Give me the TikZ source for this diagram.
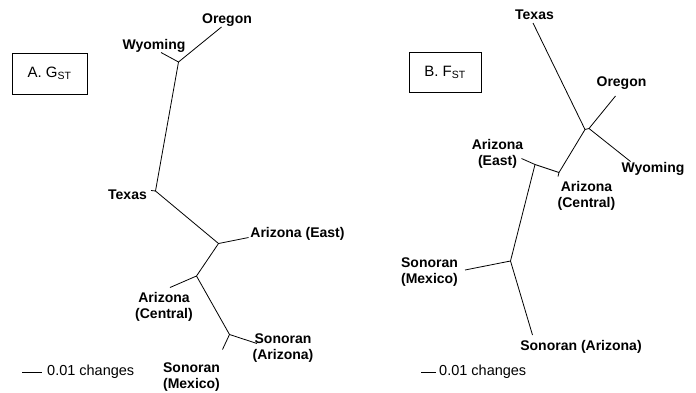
\documentclass[tikz,border=0pt]{standalone}
\usepackage{fontspec}
\setmainfont{Liberation Sans}
\usetikzlibrary{positioning}
\tikzset{
  taxon/.style={font=\fontsize{14}{16}\selectfont\bfseries, align=center, inner sep=0pt},
  branch/.style={line width=0.8pt, black},
  panel/.style={draw, line width=0.9pt, inner sep=0pt, font=\fontsize{15}{17}\selectfont},
  scaletext/.style={font=\fontsize{14.5}{16}\selectfont, inner sep=0pt, anchor=west},
}

\begin{document}
\begin{tikzpicture}[x=1pt, y=-1pt]
    \useasboundingbox (0,0) rectangle (696,392);
    % panel A: G_ST tree
    \node[panel, minimum width=75pt, minimum height=41pt] (boxA) at (49.5,73.5) {A. G\textsubscript{ST}};
    \coordinate (aOre) at (221.5,27);
    \coordinate (aWyo) at (161,52.5);
    \coordinate (a1) at (178.5,62);
    \coordinate (a2) at (155.5,191);
    \coordinate (aTex) at (151,190.5);
    \coordinate (a3) at (218.5,243.5);
    \coordinate (aAzE) at (248.5,237.5);
    \coordinate (a4) at (196.5,276);
    \coordinate (aAzC) at (170,287.5);
    \coordinate (a5) at (229.5,334.5);
    \coordinate (aSoA) at (257,343.5);
    \coordinate (aSoM) at (222.5,349.5);
    \draw[branch] (aOre) -- (a1) -- (aWyo);
    \draw[branch] (a1) -- (a2) -- (aTex);
    \draw[branch] (a2) -- (a3) -- (aAzE);
    \draw[branch] (a3) -- (a4) -- (aAzC);
    \draw[branch] (a4) -- (a5) -- (aSoA);
    \draw[branch] (a5) -- (aSoM);
    \node[taxon] (lOreA) at (227,20) {Oregon};
    \node[taxon] (lWyoA) at (154,46) {Wyoming};
    \node[taxon] (lTexA) at (127.5,194.5) {Texas};
    \node[taxon] (lAzEA) at (297.5,234) {Arizona (East)};
    \node[taxon] (lAzCA) at (164,307) {Arizona\\(Central)};
    \node[taxon] (lSoAA) at (283,348) {Sonoran\\(Arizona)};
    \node[taxon] (lSoMA) at (191.5,377) {Sonoran\\(Mexico)};
    % scale A
    \coordinate (sA0) at (22,372);
    \coordinate (sA1) at (42,372);
    \draw[branch] (sA0) -- (sA1);
    \node[scaletext] (scA) at ([xshift=5pt]sA1) {0.01 changes};
    % panel B: F_ST tree
    \node[panel, minimum width=72pt, minimum height=40pt] (boxB) at (445,72.5) {B. F\textsubscript{ST}};
    \coordinate (bTex) at (533,23);
    \coordinate (b1) at (585,129.5);
    \coordinate (b0) at (589,128.5);
    \coordinate (bOre) at (615.5,96);
    \coordinate (bWyo) at (630.5,161.5);
    \coordinate (b2) at (559,172.5);
    \coordinate (bAzC) at (558,176.5);
    \coordinate (b3) at (535,164.5);
    \coordinate (bAzE) at (521.5,158.5);
    \coordinate (b4) at (510.5,261);
    \coordinate (bSoM) at (465,270);
    \coordinate (bSoA) at (532.5,335);
    \draw[branch] (bTex) -- (b1) -- (b0) -- (bOre);
    \draw[branch] (b0) -- (bWyo);
    \draw[branch] (b1) -- (b2) -- (bAzC);
    \draw[branch] (b2) -- (b3) -- (bAzE);
    \draw[branch] (b3) -- (b4) -- (bSoM);
    \draw[branch] (b4) -- (bSoA);
    \node[taxon] (lTexB) at (534.5,15) {Texas};
    \node[taxon] (lOreB) at (621.5,83.5) {Oregon};
    \node[taxon] (lWyoB) at (653,169) {Wyoming};
    \node[taxon] (lAzEB) at (497.5,154) {Arizona\\(East)};
    \node[taxon] (lAzCB) at (586.5,196) {Arizona\\(Central)};
    \node[taxon] (lSoMB) at (429.5,272.5) {Sonoran\\(Mexico)};
    \node[taxon] (lSoAB) at (581,346.5) {Sonoran (Arizona)};
    % scale B
    \coordinate (sB0) at (421,372);
    \coordinate (sB1) at (436,372);
    \draw[branch] (sB0) -- (sB1);
    \node[scaletext] (scB) at ([xshift=3pt]sB1) {0.01 changes};
\end{tikzpicture}
\end{document}
